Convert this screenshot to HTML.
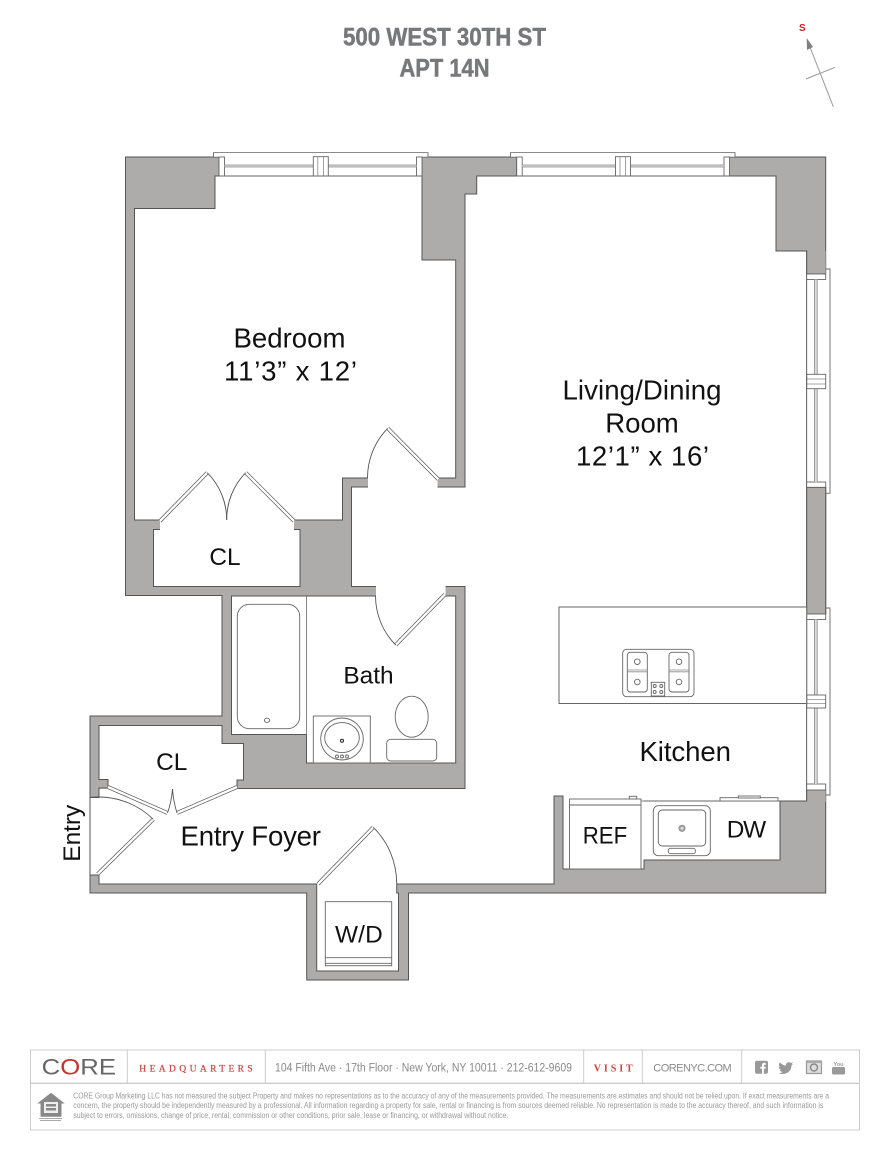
<!DOCTYPE html>
<html><head><meta charset="utf-8"><style>
html,body{margin:0;padding:0;background:#fff}
svg{display:block}
text{font-family:"Liberation Sans",sans-serif;fill:#111}
.w{fill:#adacaa;stroke:#555;stroke-width:1}
.r{fill:#fff;stroke:#555;stroke-width:1}
.l{fill:none;stroke:#666;stroke-width:.9}
.m{fill:none;stroke:#8a8a8a;stroke-width:.8}
.f{fill:#fff;stroke:#666;stroke-width:.9}
.a{fill:none;stroke:#555;stroke-width:.9}
.d1{stroke:#555;stroke-width:3.8;fill:none}
.d2{stroke:#fff;stroke-width:2.4;fill:none}
.t{font-size:27.6px}
.s{font-size:24.4px}
.dis{font-size:8px;fill:#999}
.ft{fill:#8a8a8a}
.ti{fill:#77787b;stroke:#77787b;stroke-width:.5}
</style></head><body>
<svg xmlns="http://www.w3.org/2000/svg" width="890" height="1152" viewBox="0 0 890 1152">
<rect width="890" height="1152" fill="#fff"/>

<!-- title -->
<text class="ti" x="343" y="45.5" font-size="25" font-weight="bold" textLength="203" lengthAdjust="spacingAndGlyphs">500 WEST 30TH ST</text>
<text class="ti" x="399.5" y="76.5" font-size="25" font-weight="bold" textLength="90" lengthAdjust="spacingAndGlyphs">APT 14N</text>

<!-- compass -->
<text x="799" y="31" font-size="10" font-weight="bold" style="fill:#d0232a">S</text>
<line x1="808" y1="42" x2="833.3" y2="106.7" stroke="#999" stroke-width="1"/>
<line x1="806" y1="79" x2="835" y2="67.3" stroke="#999" stroke-width="1"/>
<polygon points="806.7,38 813,47 807,50" fill="#808080"/>

<!-- walls -->
<polygon class="w" points="125.5,157 825.7,157 825.7,893 408.5,893 408.5,980 306.7,980 306.7,893 90,893 90,716 222,716 222,595.5 125.5,595.5"/>

<!-- rooms -->
<polygon class="r" points="134.5,208.5 215,208.5 215,176 219,176 219,157 422,157 422,260 455.7,260 455.7,478 342.5,478 342.5,520 134.5,520"/>
<polygon class="r" points="159.5,529.5 153.5,529.5 153.5,586.5 300,586.5 300,529.5 294.5,529.5"/>
<polygon class="r" points="465,194 476.7,194 476.7,176 516.7,176 516.7,157 729,157 729,176 776,176 776,251 806.7,251 806.7,801 780,801 780,860 644,860 644,869 563,869 563,796 554,796 554,884 99,884 99,875 90,875 90,797.5 99,797.5 99,788 237,788.5 465,788.5 465,586.5 351.5,586.5 351.5,487 465,487"/>
<polygon class="r" points="231.5,596 455.7,596 455.7,763 306.5,763 306.5,734.5 231.5,734.5"/>
<polygon class="r" points="99,725.5 222,725.5 222,743.5 243.5,743.5 243.5,780 237,780 237,788.5 108,788 108,779.5 99,779.5"/>
<polygon class="r" points="316.7,884 396.7,884 396.7,893 398.5,893 398.5,971 316.7,971"/>

<!-- right wall grey pieces -->
<rect x="806.7" y="251" width="19" height="23.5" fill="#adacaa"/>
<line x1="806.7" y1="251" x2="806.7" y2="274" stroke="#555"/>
<rect x="806.7" y="487.3" width="19" height="126.7" class="w"/>
<rect x="806.7" y="790" width="19" height="12" fill="#adacaa"/>
<line x1="806.7" y1="790" x2="806.7" y2="801" stroke="#555"/>
<line x1="806.7" y1="790" x2="825.7" y2="790" stroke="#555"/>
<line x1="806.7" y1="274" x2="825.7" y2="274" stroke="#555"/>

<!-- clear door openings -->
<rect x="368" y="476" width="69.5" height="13" fill="#fff"/>
<rect x="160" y="519" width="134" height="11.5" fill="#fff"/>
<rect x="376" y="585.5" width="69.5" height="11.5" fill="#fff"/>
<rect x="108.5" y="787" width="128" height="3" fill="#fff"/>
<rect x="317.2" y="883" width="79" height="2" fill="#fff"/>

<!-- top windows -->
<g>
<polyline class="l" points="213.5,157 213.5,152.7 428,152.7 428,157"/>
<rect x="214" y="153.2" width="213.5" height="3.6" fill="#fff"/>
<rect x="219" y="153" width="203" height="23.4" fill="#fff"/>
<rect class="f" x="219" y="157" width="5.5" height="19"/>
<rect class="f" x="416.5" y="157" width="5.5" height="19"/>
<rect x="224.5" y="165" width="88.8" height="2" fill="#ddd"/><rect x="328.3" y="165" width="88.2" height="2" fill="#ddd"/>
<line class="m" x1="224.5" y1="165" x2="313.3" y2="165"/><line class="m" x1="224.5" y1="167" x2="313.3" y2="167"/>
<line class="m" x1="328.3" y1="165" x2="416.5" y2="165"/><line class="m" x1="328.3" y1="167" x2="416.5" y2="167"/>
<rect class="f" x="313.3" y="156.7" width="15" height="19.3"/>
<line class="m" x1="317.8" y1="157" x2="317.8" y2="176"/><line class="m" x1="323.4" y1="157" x2="323.4" y2="176"/>
<line class="l" x1="219" y1="176" x2="422" y2="176"/>
</g>
<g>
<polyline class="l" points="510.5,157 510.5,152.7 735,152.7 735,157"/>
<rect x="511" y="153.2" width="223.5" height="3.6" fill="#fff"/>
<rect x="516.7" y="153" width="212.3" height="23.4" fill="#fff"/>
<rect class="f" x="516.7" y="157" width="5.5" height="19"/>
<rect class="f" x="724" y="157" width="5.5" height="19"/>
<rect x="522.2" y="165" width="93.3" height="2" fill="#ddd"/><rect x="630.5" y="165" width="93.5" height="2" fill="#ddd"/>
<line class="m" x1="522.2" y1="165" x2="615.5" y2="165"/><line class="m" x1="522.2" y1="167" x2="615.5" y2="167"/>
<line class="m" x1="630.5" y1="165" x2="724" y2="165"/><line class="m" x1="630.5" y1="167" x2="724" y2="167"/>
<rect class="f" x="615.5" y="156.7" width="15" height="19.3"/>
<line class="m" x1="620" y1="157" x2="620" y2="176"/><line class="m" x1="625.6" y1="157" x2="625.6" y2="176"/>
<line class="l" x1="516.7" y1="176" x2="729" y2="176"/>
</g>

<!-- right windows -->
<g>
<rect x="807" y="274.5" width="22.5" height="212.5" fill="#fff"/>
<polyline class="l" points="825.7,269 830,269 830,493.3 825.7,493.3"/>
<rect class="f" x="806.7" y="274" width="19" height="5.5"/>
<rect class="f" x="806.7" y="482" width="19" height="5.3"/>
<rect x="814.4" y="279.5" width="2.8" height="202.5" fill="#ddd"/>
<line class="m" x1="814.4" y1="279.5" x2="814.4" y2="482"/><line class="m" x1="817.2" y1="279.5" x2="817.2" y2="482"/>
<rect class="f" x="806.7" y="374.3" width="19" height="14.4"/>
<line class="m" x1="806.7" y1="379" x2="825.7" y2="379"/><line class="m" x1="806.7" y1="384" x2="825.7" y2="384"/>
<line class="l" x1="806.7" y1="279" x2="806.7" y2="482"/>
</g>
<g>
<rect x="807" y="614.5" width="22.5" height="175" fill="#fff"/>
<polyline class="l" points="825.7,608 830,608 830,795 825.7,795"/>
<rect class="f" x="806.7" y="614" width="19" height="5.5"/>
<rect class="f" x="806.7" y="784" width="19" height="6"/>
<rect x="814.4" y="619.5" width="2.8" height="164.5" fill="#ddd"/>
<line class="m" x1="814.4" y1="619.5" x2="814.4" y2="784"/><line class="m" x1="817.2" y1="619.5" x2="817.2" y2="784"/>
<rect class="f" x="806.7" y="695" width="19" height="13"/>
<line class="m" x1="806.7" y1="699.5" x2="825.7" y2="699.5"/><line class="m" x1="806.7" y1="703.5" x2="825.7" y2="703.5"/>
<line class="l" x1="806.7" y1="619" x2="806.7" y2="784"/>
</g>

<!-- doors -->
<g>
<line class="d1" x1="438.3" y1="479.3" x2="387.7" y2="428.3"/><line class="d2" x1="438.3" y1="479.3" x2="387.7" y2="428.3"/>
<path class="a" d="M387.7,428.3 A71,71 0 0 0 367.5,478"/>
<line class="d1" x1="160" y1="521" x2="207.3" y2="472.7"/><line class="d2" x1="160" y1="521" x2="207.3" y2="472.7"/>
<path class="a" d="M207.3,472.7 A67,67 0 0 1 226.7,520"/>
<line class="d1" x1="294" y1="521" x2="245.7" y2="472.7"/><line class="d2" x1="294" y1="521" x2="245.7" y2="472.7"/>
<path class="a" d="M245.7,472.7 A67,67 0 0 0 226.7,520"/>
<line class="d1" x1="445" y1="594.3" x2="395.7" y2="645"/><line class="d2" x1="445" y1="594.3" x2="395.7" y2="645"/>
<path class="a" d="M395.7,645 A70,70 0 0 1 375.5,596"/>
<line class="d1" x1="97.7" y1="874" x2="153.3" y2="819.3"/><line class="d2" x1="97.7" y1="874" x2="153.3" y2="819.3"/>
<path class="a" d="M153.3,819.3 A78,78 0 0 0 90,797.5"/>
<line class="d1" x1="108" y1="787" x2="167.5" y2="813"/><line class="d2" x1="108" y1="787" x2="167.5" y2="813"/>
<line class="d1" x1="237" y1="787" x2="177" y2="813"/><line class="d2" x1="237" y1="787" x2="177" y2="813"/>
<path class="a" d="M167.5,813 Q171.5,802 172.5,789 Q173.5,802 177,813"/>
<line class="d1" x1="318" y1="884" x2="373.3" y2="827.3"/><line class="d2" x1="318" y1="884" x2="373.3" y2="827.3"/>
<path class="a" d="M373.3,827.3 A79,79 0 0 1 396.7,884"/>
</g>

<!-- bath fixtures -->
<line x1="306.5" y1="596" x2="306.5" y2="734.5" stroke="#888" stroke-width="1"/>
<rect class="l" x="237.3" y="604.3" width="62.4" height="124.4" rx="12"/>
<ellipse class="l" cx="267" cy="720.3" rx="2.6" ry="2.1"/>
<rect class="l" x="313.3" y="716" width="57" height="47"/>
<ellipse class="l" cx="342" cy="739" rx="21.3" ry="21"/>
<ellipse class="l" cx="342" cy="737.6" rx="17.3" ry="15"/>
<circle cx="342" cy="740.7" r="1.5" fill="#fff" stroke="#222"/>
<circle class="l" cx="337" cy="756.5" r="1.5"/><circle class="l" cx="342" cy="756.5" r="1.5"/><circle class="l" cx="347" cy="756.5" r="1.5"/>
<ellipse class="l" cx="411.7" cy="716.7" rx="16.5" ry="20.5"/>
<rect class="l" x="386.7" y="739.3" width="50" height="21.7" rx="4"/>

<!-- kitchen -->
<rect class="r" x="559" y="607" width="247.7" height="96.5" style="stroke:#666"/>
<rect class="l" x="622.7" y="649.3" width="71.3" height="47.4" rx="4"/>
<rect class="l" x="627.3" y="652.3" width="20" height="39.7" rx="3"/>
<rect class="l" x="669" y="652.3" width="20" height="39.7" rx="3"/>
<line class="m" x1="627.3" y1="670" x2="647.3" y2="670"/><line class="m" x1="627.3" y1="671.8" x2="647.3" y2="671.8"/>
<line class="m" x1="669" y1="670" x2="689" y2="670"/><line class="m" x1="669" y1="671.8" x2="689" y2="671.8"/>
<circle class="l" cx="637.3" cy="661.7" r="2.8"/><circle class="l" cx="637.3" cy="682" r="2.8"/>
<circle class="l" cx="679" cy="661.7" r="2.8"/><circle class="l" cx="679" cy="682" r="2.8"/>
<rect class="l" x="651.3" y="682.3" width="13.4" height="13.7"/>
<circle class="l" cx="654.7" cy="686" r="1.5"/><circle class="l" cx="661.3" cy="686" r="1.5"/><circle class="l" cx="654.7" cy="692" r="1.5"/><circle class="l" cx="661.3" cy="692" r="1.5"/>

<rect class="f" x="569.5" y="799" width="71.5" height="70"/>
<line class="l" x1="569.5" y1="805" x2="641" y2="805"/>
<rect class="l" x="629.3" y="796.3" width="7.4" height="2.7"/>
<line x1="641" y1="801" x2="644" y2="801" stroke="#888"/>
<line x1="644" y1="801" x2="780" y2="801" stroke="#666"/>
<rect class="l" x="653.3" y="805.7" width="57" height="50" rx="5"/>
<rect class="l" x="658.3" y="810" width="47.4" height="36" rx="4"/>
<circle cx="682" cy="828.3" r="3.6" fill="#999"/><circle cx="682" cy="828.3" r="1.6" fill="#ddd"/>
<rect class="l" x="668.3" y="848.3" width="27" height="5.4" rx="2"/>
<rect class="f" x="720" y="797.7" width="58" height="3.3"/>
<rect class="f" x="738.3" y="796" width="22" height="2"/>

<!-- W/D -->
<rect class="f" x="325.3" y="901.7" width="66.4" height="64"/>
<line class="l" x1="325.3" y1="957.7" x2="391.7" y2="957.7"/>
<line class="l" x1="325.3" y1="963.3" x2="391.7" y2="963.3"/>

<!-- labels -->
<text class="t" x="233.5" y="347.3" textLength="112">Bedroom</text>
<text class="t" x="224" y="380.7" textLength="133">11’3” x 12’</text>
<text class="t" x="562.5" y="399.3" textLength="159">Living/Dining</text>
<text class="t" x="642" y="432.7" text-anchor="middle">Room</text>
<text class="t" x="576" y="465.5" textLength="133">12’1” x 16’</text>
<text class="s" x="225" y="565" text-anchor="middle">CL</text>
<text class="s" x="368.5" y="683.3" text-anchor="middle">Bath</text>
<text class="s" x="171.7" y="770" text-anchor="middle">CL</text>
<text class="t" x="180.5" y="845.7" textLength="140.5">Entry Foyer</text>
<text class="s" transform="translate(80,861.7) rotate(-90)">Entry</text>
<text class="s" x="335" y="942.3" textLength="47.7">W/D</text>
<text class="t" x="639.5" y="761" textLength="91.5">Kitchen</text>
<text class="s" x="582.7" y="843.3" textLength="44.5" lengthAdjust="spacingAndGlyphs">REF</text>
<text class="s" x="726.7" y="837.7" textLength="39.5">DW</text>

<!-- footer -->
<g stroke="#ccc" stroke-width="1" fill="none">
<rect x="30.5" y="1050" width="829" height="80"/>
<line x1="30.5" y1="1083.3" x2="859.5" y2="1083.3" stroke-width="1.4"/>
<line x1="127.3" y1="1050" x2="127.3" y2="1083"/>
<line x1="265.3" y1="1050" x2="265.3" y2="1083"/>
<line x1="583.7" y1="1050" x2="583.7" y2="1083"/>
<line x1="642.3" y1="1050" x2="642.3" y2="1083"/>
<line x1="741.7" y1="1050" x2="741.7" y2="1083"/>
</g>
<text x="41.7" y="1074.3" font-size="22" style="fill:#666" textLength="74.3" lengthAdjust="spacingAndGlyphs">C<tspan style="fill:#c8322e">O</tspan>RE</text>
<text x="139.3" y="1071.7" font-size="9.5" style="font-family:'Liberation Serif',serif;fill:#d0403c;stroke:#d0403c;stroke-width:.2" textLength="113.4">HEADQUARTERS</text>
<text class="ft" x="275" y="1071.3" font-size="11.5" textLength="297" lengthAdjust="spacingAndGlyphs">104 Fifth Ave · 17th Floor · New York, NY 10011 · 212-612-9609</text>
<text x="593.7" y="1071.7" font-size="10" font-weight="bold" style="font-family:'Liberation Serif',serif;fill:#d0403c" textLength="39">VISIT</text>
<text class="ft" x="653.3" y="1071.5" font-size="11" textLength="78.4">CORENYC.COM</text>

<!-- social icons -->
<rect x="755" y="1060.7" width="13" height="13" rx="2" fill="#999"/>
<path d="M762,1073.7v-5h-1.6v-2h1.6v-1.5c0-1.6,1-2.3,2.3-2.3h1.4v2h-1c-.6,0-.8.3-.8.8v1h1.8l-.3,2h-1.5v5z" fill="#fff"/>
<path d="M780,1062.5c2,2,4,3,6,3c-.3-2.5,2.5-4.5,4.5-2.5l2.5-1l-1.5,2.3l1.5-.3l-1.5,1.5c0,5-4,8.5-9,8.5c-1.5,0-2.7-.3-3.5-.9c1.5,0,2.7-.4,3.5-1.1c-1.5-.2-2.3-1-2.7-2l1.2-.1c-1.4-.6-2.2-1.8-2.2-3l1.2.3c-1.3-1-1.4-2.7-.5-4.1z" fill="#999"/>
<rect x="806.5" y="1061" width="15" height="12.5" fill="#ddd" stroke="#999" stroke-width="1.2"/>
<circle cx="814" cy="1067.5" r="3.5" fill="#ddd" stroke="#888" stroke-width="1.4"/>
<rect x="806.5" y="1061" width="15" height="2" fill="#aaa"/>
<text x="833.5" y="1066" font-size="5.5" font-weight="bold" style="fill:#999">You</text>
<rect x="832" y="1067" width="13" height="7.5" rx="1.5" fill="#999"/>

<!-- disclaimer -->
<g>
<polygon points="51,1092.7 37.3,1103.5 40.5,1103.5 40.5,1116.7 61.5,1116.7 61.5,1103.5 64.7,1103.5" fill="#888"/>
<rect x="44" y="1102" width="14" height="11" fill="#eee"/>
<rect x="46" y="1104" width="10" height="2.5" fill="#888"/><rect x="46" y="1108" width="10" height="2.5" fill="#888"/>
<rect x="39" y="1118" width="23" height="1" fill="#aaa"/><rect x="40" y="1120" width="21" height="1" fill="#aaa"/>
</g>
<text class="dis" x="73.3" y="1098.3" textLength="755.7" lengthAdjust="spacingAndGlyphs">CORE Group Marketing LLC has not measured the subject Property and makes no representations as to the accuracy of any of the measurements provided. The measurements are estimates and should not be relied upon. If exact measurements are a</text>
<text class="dis" x="73.3" y="1108.2" textLength="750" lengthAdjust="spacingAndGlyphs">concern, the property should be independently measured by a professional. All information regarding a property for sale, rental or financing is from sources deemed reliable. No representation is made to the accuracy thereof, and such information is</text>
<text class="dis" x="73.3" y="1118.2" textLength="435" lengthAdjust="spacingAndGlyphs">subject to errors, omissions, change of price, rental, commission or other conditions, prior sale, lease or financing, or withdrawal without notice.</text>
</svg>
</body></html>
